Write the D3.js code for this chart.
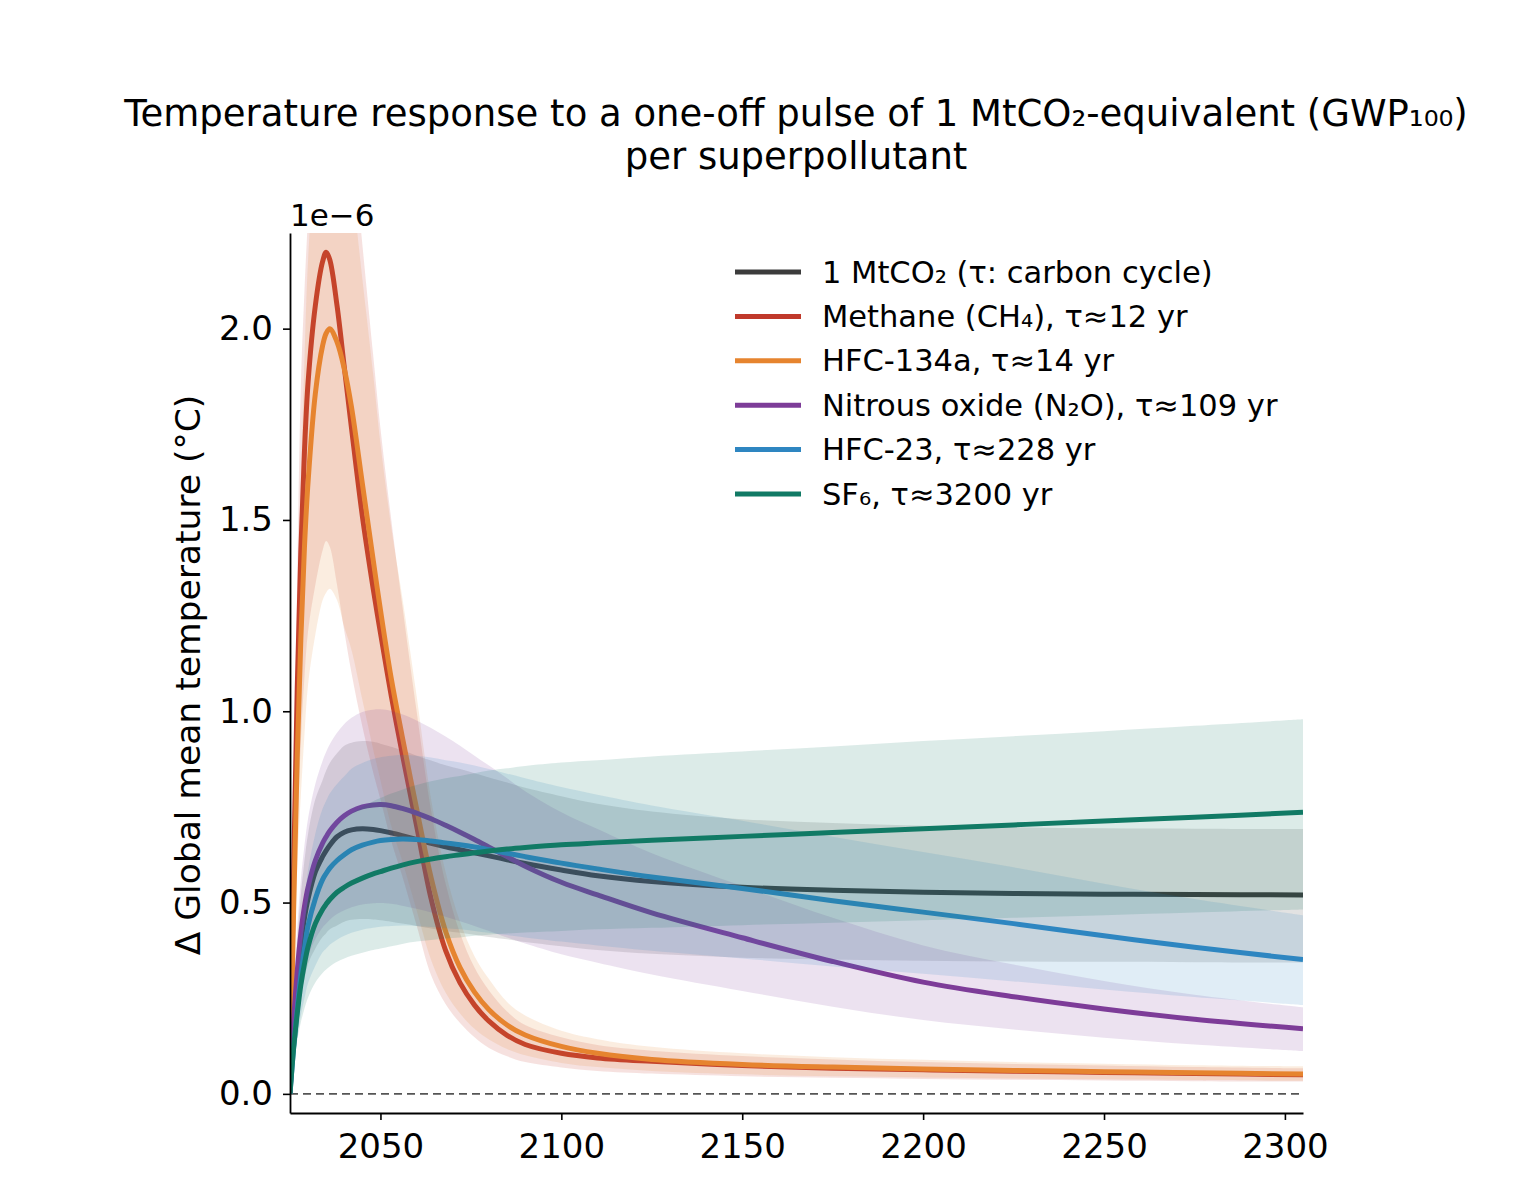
<!DOCTYPE html>
<html><head><meta charset="utf-8">
<script src="https://cdn.jsdelivr.net/npm/d3@7"></script>
<style>
body{margin:0;background:#fff}
svg{display:block}
text{font-family:"DejaVu Sans",sans-serif;fill:#000}
</style>
</head><body>
<svg id="chart" width="1540" height="1200"></svg>
<script>
// ---- data (values in units of 1e-6 °C) ----
const years = [2025,2026,2027,2028,2029,2030,2032,2034,2035,2036,2038,2040,2042,2045,2048,2050,2053,2056,2060,2064,2068,2072,2076,2080,2085,2090,2100,2110,2125,2150,2175,2200,2225,2250,2275,2305];

const co2     = [0,0.17,0.29,0.39,0.46,0.51,0.58,0.62,0.636,0.65,0.672,0.684,0.69,0.693,0.691,0.688,0.682,0.675,0.665,0.655,0.646,0.638,0.63,0.622,0.612,0.602,0.585,0.57,0.555,0.54,0.532,0.527,0.524,0.522,0.521,0.52];
const co2Low  = [0,0.11,0.19,0.26,0.30,0.34,0.38,0.41,0.42,0.43,0.44,0.45,0.455,0.457,0.456,0.454,0.45,0.445,0.439,0.432,0.426,0.421,0.416,0.41,0.404,0.397,0.386,0.376,0.366,0.356,0.351,0.348,0.346,0.345,0.344,0.343];
const co2High = [0,0.23,0.39,0.52,0.61,0.68,0.77,0.82,0.845,0.865,0.89,0.91,0.918,0.922,0.92,0.915,0.907,0.898,0.884,0.871,0.859,0.849,0.838,0.827,0.814,0.80,0.778,0.758,0.738,0.718,0.708,0.701,0.697,0.694,0.693,0.692];

const ch4     = [0,0.58,1.06,1.42,1.68,1.86,2.06,2.175,2.20,2.18,2.06,1.90,1.74,1.51,1.32,1.205,1.04,0.89,0.70,0.51,0.375,0.29,0.232,0.19,0.153,0.129,0.106,0.094,0.085,0.074,0.067,0.063,0.059,0.056,0.053,0.05];
const ch4Low  = [0,0.36,0.67,0.92,1.09,1.21,1.33,1.42,1.445,1.43,1.33,1.21,1.10,0.96,0.84,0.77,0.66,0.57,0.44,0.31,0.235,0.185,0.148,0.12,0.098,0.083,0.069,0.06,0.053,0.046,0.042,0.039,0.037,0.035,0.033,0.032];
const ch4High = [0,0.75,1.35,1.85,2.10,2.30,2.70,2.88,2.93,2.93,2.85,2.70,2.52,2.22,1.93,1.74,1.50,1.28,1.00,0.74,0.55,0.42,0.33,0.27,0.215,0.18,0.148,0.128,0.113,0.099,0.09,0.083,0.078,0.074,0.07,0.067];

const hfc134a     = [0,0.48,0.88,1.19,1.43,1.60,1.83,1.955,1.988,2.0,1.965,1.895,1.795,1.595,1.395,1.265,1.085,0.935,0.745,0.565,0.425,0.33,0.266,0.22,0.18,0.154,0.124,0.106,0.09,0.077,0.07,0.065,0.061,0.058,0.055,0.052];
const hfc134aLow  = [0,0.30,0.59,0.78,0.94,1.07,1.20,1.29,1.31,1.32,1.29,1.22,1.16,1.03,0.9,0.82,0.7,0.61,0.48,0.35,0.265,0.21,0.17,0.142,0.117,0.101,0.081,0.07,0.06,0.051,0.046,0.043,0.04,0.038,0.036,0.034];
const hfc134aHigh = [0,0.62,1.22,1.60,1.92,2.18,2.46,2.62,2.66,2.68,2.62,2.50,2.38,2.13,1.88,1.70,1.48,1.30,1.04,0.77,0.58,0.45,0.36,0.30,0.24,0.205,0.165,0.143,0.123,0.106,0.096,0.089,0.083,0.079,0.075,0.072];

const n2o     = [0,0.19,0.32,0.42,0.49,0.54,0.61,0.655,0.672,0.687,0.71,0.727,0.739,0.75,0.755,0.756,0.753,0.746,0.734,0.719,0.702,0.684,0.665,0.645,0.62,0.595,0.553,0.52,0.473,0.408,0.346,0.292,0.254,0.222,0.195,0.17];
const n2oLow  = [0,0.12,0.21,0.28,0.325,0.36,0.405,0.435,0.445,0.455,0.47,0.48,0.488,0.495,0.498,0.499,0.497,0.492,0.484,0.474,0.463,0.451,0.439,0.426,0.409,0.393,0.365,0.343,0.312,0.269,0.228,0.193,0.168,0.147,0.129,0.112];
const n2oHigh = [0,0.25,0.43,0.56,0.65,0.72,0.81,0.87,0.894,0.914,0.944,0.967,0.983,0.998,1.004,1.005,1.001,0.992,0.976,0.956,0.934,0.91,0.884,0.858,0.825,0.791,0.736,0.692,0.629,0.543,0.46,0.388,0.338,0.295,0.259,0.226];

const hfc23     = [0,0.12,0.22,0.31,0.38,0.44,0.51,0.56,0.576,0.59,0.61,0.625,0.638,0.65,0.658,0.662,0.665,0.666,0.665,0.661,0.656,0.651,0.645,0.638,0.629,0.62,0.603,0.588,0.567,0.537,0.505,0.475,0.445,0.413,0.383,0.351];
const hfc23Low  = [0,0.08,0.145,0.205,0.25,0.29,0.335,0.37,0.38,0.39,0.403,0.413,0.421,0.429,0.434,0.437,0.439,0.44,0.439,0.436,0.433,0.43,0.426,0.421,0.415,0.409,0.398,0.388,0.374,0.354,0.333,0.314,0.294,0.273,0.253,0.232];
const hfc23High = [0,0.16,0.29,0.41,0.505,0.585,0.68,0.745,0.766,0.785,0.81,0.83,0.85,0.865,0.875,0.88,0.884,0.886,0.884,0.879,0.872,0.866,0.858,0.849,0.837,0.825,0.802,0.782,0.754,0.714,0.672,0.632,0.592,0.549,0.509,0.467];

const sf6     = [0,0.12,0.21,0.285,0.34,0.385,0.445,0.482,0.496,0.508,0.527,0.54,0.551,0.564,0.575,0.581,0.59,0.598,0.607,0.614,0.62,0.625,0.63,0.635,0.64,0.644,0.651,0.656,0.663,0.673,0.683,0.693,0.703,0.713,0.723,0.736];
const sf6Low  = [0,0.08,0.14,0.187,0.223,0.252,0.291,0.316,0.325,0.333,0.345,0.354,0.361,0.369,0.376,0.38,0.386,0.392,0.398,0.402,0.406,0.409,0.413,0.416,0.419,0.422,0.426,0.43,0.434,0.441,0.447,0.454,0.46,0.467,0.474,0.482];
const sf6High = [0,0.16,0.28,0.379,0.452,0.512,0.592,0.641,0.66,0.676,0.701,0.718,0.733,0.75,0.765,0.773,0.785,0.795,0.807,0.817,0.825,0.831,0.838,0.845,0.851,0.857,0.866,0.872,0.882,0.895,0.908,0.922,0.935,0.948,0.962,0.979];

const seriesLabels = ["1 MtCO\u2082 (\u03c4: carbon cycle)", "Methane (CH\u2084), \u03c4\u224812 yr", "HFC-134a, \u03c4\u224814 yr", "Nitrous oxide (N\u2082O), \u03c4\u2248109 yr", "HFC-23, \u03c4\u2248228 yr", "SF\u2086, \u03c4\u22483200 yr"];
const seriesColors = ["#3c3c3c", "#c0392b", "#e6842f", "#7d3c98", "#2e86c1", "#117a65"];
const xTicks = [2050, 2100, 2150, 2200, 2250, 2300];
const yTicks = [0.0, 0.5, 1.0, 1.5, 2.0];
const titleLines = ["Temperature response to a one-off pulse of 1 MtCO\u2082-equivalent (GWP\u2081\u2080\u2080)", "per superpollutant"];
const yLabel = "\u0394 Global mean temperature (\u00b0C)";
const offsetLabel = "1e\u22126";

// ---- build ----
const series = [
  {mid: co2, low: co2Low, high: co2High},
  {mid: ch4, low: ch4Low, high: ch4High},
  {mid: hfc134a, low: hfc134aLow, high: hfc134aHigh},
  {mid: n2o, low: n2oLow, high: n2oHigh},
  {mid: hfc23, low: hfc23Low, high: hfc23High},
  {mid: sf6, low: sf6Low, high: sf6High}
].map((s, i) => ({
  label: seriesLabels[i], color: seriesColors[i],
  pts: years.map((yr, j) => ({yr, mid: s.mid[j], low: s.low[j], high: s.high[j]}))
}));

const L = 290, R = 1303, T = 233, B = 1113;
const x = d3.scaleLinear().domain([2025, 2305]).range([L, R]);
const y = d3.scaleLinear().domain([-0.05, 2.25]).range([B, T]);

const svg = d3.select("#chart");
svg.append("rect").attr("width", 1540).attr("height", 1200).attr("fill", "#fff");

svg.append("defs").append("clipPath").attr("id", "plotclip")
  .append("rect").attr("x", L).attr("y", T).attr("width", R - L).attr("height", B - T);

const plot = svg.append("g").attr("clip-path", "url(#plotclip)");

plot.append("line")
  .attr("x1", x(2025)).attr("x2", x(2305)).attr("y1", y(0)).attr("y2", y(0))
  .attr("stroke", "#555").attr("stroke-width", 1.8).attr("stroke-dasharray", "8,5");

const curve = d3.curveCatmullRom.alpha(0.5);
const area = d3.area().x(d => x(d.yr)).y0(d => y(d.low)).y1(d => y(d.high)).curve(curve);
const line = d3.line().x(d => x(d.yr)).y(d => y(d.mid)).curve(curve);

series.forEach(s => {
  plot.append("path").datum(s.pts).attr("d", area)
    .attr("fill", s.color).attr("fill-opacity", 0.15).attr("stroke", "none");
  plot.append("path").datum(s.pts).attr("d", line)
    .attr("fill", "none").attr("stroke", s.color).attr("stroke-width", 5)
    .attr("stroke-linejoin", "round").attr("stroke-linecap", "butt");
});

// axes
const yAxis = svg.append("g").attr("transform", `translate(${L},0)`)
  .call(d3.axisLeft(y).tickValues(yTicks).tickFormat(d3.format(".1f")).tickSize(7).tickSizeOuter(0).tickPadding(10));
const xAxis = svg.append("g").attr("transform", `translate(0,${B})`)
  .call(d3.axisBottom(x).tickValues(xTicks).tickFormat(d3.format("d")).tickSize(7).tickSizeOuter(0).tickPadding(14));
[yAxis, xAxis].forEach(g => {
  g.select(".domain").attr("stroke", "#000").attr("stroke-width", 1.8);
  g.selectAll(".tick line").attr("stroke", "#000").attr("stroke-width", 1.6);
  g.selectAll(".tick text").attr("font-size", 34).attr("font-family", "DejaVu Sans").attr("fill", "#000");
});

// offset text
svg.append("text").attr("x", 290).attr("y", 226).attr("font-size", 31).text(offsetLabel);

// y label
svg.append("text").attr("transform", "translate(200,675) rotate(-90)")
  .attr("text-anchor", "middle").attr("font-size", 34.5).text(yLabel);

// title
titleLines.forEach((t, i) => {
  svg.append("text").attr("x", 796).attr("y", 126 + i * 43)
    .attr("text-anchor", "middle").attr("font-size", 37).text(t);
});

// legend
const leg = svg.append("g");
series.forEach((s, i) => {
  const yy = 272 + i * 44.4;
  leg.append("line").attr("x1", 735).attr("x2", 801).attr("y1", yy).attr("y2", yy)
    .attr("stroke", s.color).attr("stroke-width", 5);
  leg.append("text").attr("x", 822).attr("y", yy).attr("dy", "0.35em")
    .attr("font-size", 30.5).text(s.label);
});
</script>
</body></html>
